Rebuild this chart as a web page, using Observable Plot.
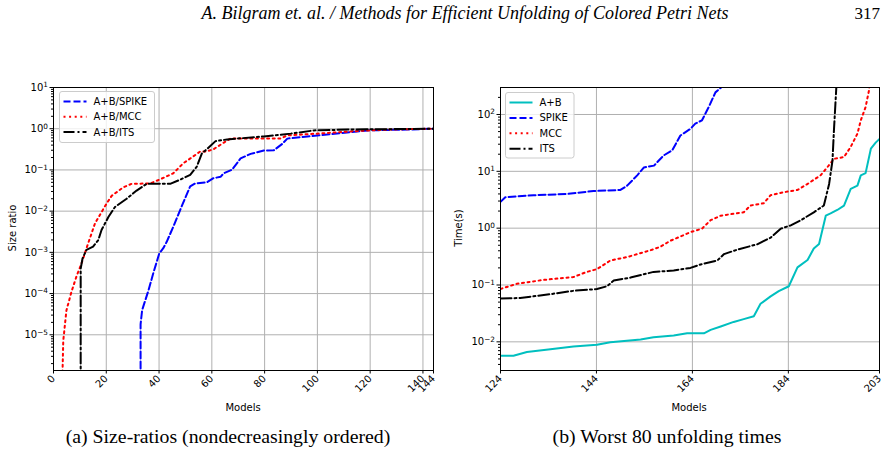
<!DOCTYPE html>
<html><head><meta charset="utf-8">
<script src="https://cdn.jsdelivr.net/npm/d3@7"></script>
<script src="https://cdn.jsdelivr.net/npm/@observablehq/plot@0.6"></script>
<style>
body{margin:0;background:#fff;}
#wrap{position:relative;width:888px;height:461px;overflow:hidden;background:#fff;}
</style></head><body><div id="wrap"></div>
<script>
// ---------- (a) Size-ratios ----------
const sizeLabels = ["A+B/SPIKE", "A+B/MCC", "A+B/ITS"];
const sizeSpikeX = [33, 33, 33.6, 36, 37.8, 40.1, 41.6, 42.9, 45.4, 48.6, 51.8, 53.7, 58.1, 60.6, 63.3, 64.5, 67.7, 70.9, 74.7, 79.7, 83.5, 86.7, 88.6, 96.2, 108.8, 119, 134, 144];
const sizeSpikeY = [1e-8, 1.8e-5, 4.0e-5, 1.2e-4, 3.1e-4, 9.5e-4, 1.26e-3, 1.8e-3, 4.2e-3, 0.0132, 0.04, 0.047, 0.05, 0.063, 0.068, 0.083, 0.102, 0.19, 0.245, 0.295, 0.30, 0.43, 0.575, 0.65, 0.78, 0.91, 0.955, 1.0];
const sizeMccX = [3, 3.7, 4.9, 6.8, 8.7, 10.6, 11.9, 12.5, 15.7, 19.5, 22, 26.5, 29.6, 36.6, 40.4, 45.4, 49.2, 53, 55.6, 58, 60.7, 65, 67, 86, 88.6, 100, 114, 126.6, 144];
const sizeMccY = [1e-7, 7.2e-6, 3.9e-5, 1.1e-4, 2.6e-4, 5.4e-4, 9.5e-4, 1.26e-3, 5.0e-3, 0.0132, 0.0234, 0.038, 0.046, 0.047, 0.059, 0.083, 0.145, 0.214, 0.28, 0.28, 0.32, 0.48, 0.575, 0.575, 0.69, 0.76, 0.87, 0.955, 1.0];
const sizeItsX = [10.3, 10.3, 11, 12.5, 15, 17, 18.2, 20.8, 23.3, 27.7, 31.5, 35.3, 44.2, 48, 51.8, 54.3, 56.2, 58.1, 61.4, 65.8, 79.7, 89.9, 98.7, 112.6, 144];
const sizeItsY = [1e-8, 4.0e-4, 7.1e-4, 1.15e-3, 1.38e-3, 2.0e-3, 3.5e-3, 7.2e-3, 0.0126, 0.02, 0.0316, 0.046, 0.046, 0.058, 0.076, 0.12, 0.25, 0.32, 0.5, 0.55, 0.65, 0.76, 0.91, 0.955, 1.0];
const sizeXTicks = [0, 20, 40, 60, 80, 100, 120, 140, 144];
const sizeYTicks = [1e-5, 1e-4, 1e-3, 1e-2, 1e-1, 1, 10];

// ---------- (b) Worst 80 unfolding times ----------
const timeLabels = ["A+B", "SPIKE", "MCC", "ITS"];
const timeAbX = [124, 126.7, 129.5, 134.4, 139.2, 144.1, 146.9, 153.2, 155.9, 160.1, 162.9, 166.4, 167.8, 169.9, 172.6, 174.7, 176.8, 178.2, 180.3, 182, 184.1, 185.9, 188, 189.3, 190.4, 191.8, 192.8, 194.2, 195.6, 197, 198.4, 199.1, 200.1, 201.2, 202.2, 203];
const timeAbY = [0.0057, 0.0057, 0.0066, 0.0074, 0.0083, 0.0089, 0.0098, 0.011, 0.012, 0.0129, 0.0141, 0.0141, 0.0162, 0.0186, 0.0224, 0.0251, 0.0282, 0.0468, 0.063, 0.078, 0.095, 0.204, 0.275, 0.437, 0.525, 1.66, 1.82, 2.09, 2.5, 4.9, 5.6, 8.5, 9.3, 25, 32, 37];
const timeSpikeX = [124, 125, 130.9, 137.9, 143.4, 149, 150.4, 152.5, 153.9, 156, 158, 159.8, 161.5, 163.6, 164.6, 166, 167.4, 168.8, 170, 171];
const timeSpikeY = [2.9, 3.5, 3.8, 4.0, 4.5, 4.7, 5.6, 8.5, 11.7, 12.6, 19, 23.4, 42.7, 56, 69, 79, 135, 245, 300, 600];
const timeMccX = [124, 127.4, 133, 139.2, 142, 144.1, 146.9, 150.4, 155.3, 157.3, 159.4, 163.6, 166, 167.8, 169.9, 174.7, 176.1, 178.9, 180.3, 183.1, 185.9, 188, 190.7, 192.1, 193.5, 195.6, 197, 198.4, 199.1, 200.1, 200.8, 201.2];
const timeMccY = [0.085, 0.105, 0.123, 0.138, 0.17, 0.19, 0.27, 0.31, 0.41, 0.47, 0.6, 0.85, 0.98, 1.38, 1.66, 1.9, 2.5, 2.75, 3.8, 4.3, 4.7, 6.0, 8.5, 11.7, 16.6, 17.8, 27, 46, 79, 135, 263, 600];
const timeItsX = [124, 128.1, 134.4, 139.2, 144.1, 146.2, 147.6, 151.1, 155.9, 160.1, 163.6, 165.7, 169.2, 170.6, 173.4, 177.5, 180.3, 182.4, 184.5, 186.6, 189.3, 191.4, 192.5, 193.2, 193.5, 194, 194.3];
const timeItsY = [0.058, 0.059, 0.069, 0.079, 0.085, 0.095, 0.12, 0.135, 0.17, 0.18, 0.2, 0.23, 0.27, 0.35, 0.42, 0.52, 0.68, 0.98, 1.12, 1.38, 1.9, 2.5, 6.0, 15.5, 52, 300, 1000];
const timeXTicks = [124, 144, 164, 184, 203];
const timeYTicks = [1e-2, 1e-1, 1, 10, 100];

// ---------- styles ----------
const styles = {
  "A+B": {stroke: "#00bfbf", dash: null},
  "SPIKE": {stroke: "#0000ff", dash: "7,3"},
  "MCC": {stroke: "#ff0000", dash: "2,3.6"},
  "ITS": {stroke: "#000000", dash: "11,3,2,3"}
};
const powFmt = d => "10^" + String(Math.round(Math.log10(d))).replace("-", "\u2212");
function minorTicks(lo, hi) {
  const out = [];
  for (let e = Math.floor(Math.log10(lo)); e <= Math.ceil(Math.log10(hi)); e++)
    for (let m = 2; m <= 9; m++) { const v = m * Math.pow(10, e); if (v >= lo && v <= hi) out.push(v); }
  return out;
}
const zip = (xs, ys) => xs.map((x, i) => ({x, y: ys[i]}));
const lineMark = (xs, ys, key) => Plot.line(zip(xs, ys), {x: "x", y: "y", stroke: styles[key].stroke, strokeWidth: 2, strokeDasharray: styles[key].dash, strokeLinejoin: "round", clip: true});
const grid = "#b0b0b0";
const fontStyle = {fontFamily: "DejaVu Sans", fontSize: "10px", color: "black", background: "transparent", overflow: "visible"};

function makePlot(cfg) {
  const p = Plot.plot({
    width: 444, height: 350,
    marginLeft: cfg.ml, marginRight: cfg.mr, marginTop: 17, marginBottom: 50,
    style: fontStyle,
    x: {domain: cfg.xDomain},
    y: {type: "log", domain: cfg.yDomain},
    marks: [
      Plot.gridX(cfg.xTicks, {stroke: grid, strokeOpacity: 1, strokeWidth: 1}),
      Plot.gridY(cfg.yTicks, {stroke: grid, strokeOpacity: 1, strokeWidth: 1}),
      ...cfg.lines,
      Plot.frame({stroke: "black", strokeWidth: 1}),
      Plot.axisY(minorTicks(cfg.yDomain[0], cfg.yDomain[1]), {tickSize: 2, tickFormat: () => "", label: null}),
      Plot.axisY(cfg.yTicks, {tickSize: 3.5, tickPadding: 2, tickFormat: powFmt, label: null}),
      Plot.axisX(cfg.xTicks, {tickSize: 3.5, tickPadding: 3, tickRotate: -45, tickFormat: d => String(d), label: null})
    ]
  });
  p.style.position = "absolute";
  p.style.left = cfg.left + "px";
  p.style.top = "70px";
  // render "10^e" as 10 with a raised exponent
  d3.select(p).selectAll("text").each(function() {
    const s = this.textContent;
    if (s.startsWith("10^")) {
      const e = s.slice(3);
      this.textContent = "10";
      d3.select(this).append("tspan").attr("dy", "-0.45em").style("font-size", "7.3px").text(e);
    }
  });
  return p;
}

const wrap = document.getElementById("wrap");
wrap.appendChild(makePlot({
  left: 0, ml: 53, mr: 11, xDomain: [0, 144], yDomain: [1.36e-6, 10],
  xTicks: sizeXTicks, yTicks: sizeYTicks,
  lines: [lineMark(sizeSpikeX, sizeSpikeY, "SPIKE"), lineMark(sizeMccX, sizeMccY, "MCC"), lineMark(sizeItsX, sizeItsY, "ITS")]
}));
wrap.appendChild(makePlot({
  left: 444, ml: 56, mr: 9, xDomain: [124, 203], yDomain: [0.00313, 298.5],
  xTicks: timeXTicks, yTicks: timeYTicks,
  lines: [lineMark(timeAbX, timeAbY, "A+B"), lineMark(timeSpikeX, timeSpikeY, "SPIKE"), lineMark(timeMccX, timeMccY, "MCC"), lineMark(timeItsX, timeItsY, "ITS")]
}));

// ---------- overlay texts and legends ----------
const svg = d3.select(wrap).append("svg").attr("width", 888).attr("height", 461)
  .style("position", "absolute").style("left", 0).style("top", 0);
svg.append("text").attr("x", 465).attr("y", 19).attr("text-anchor", "middle")
  .style("font-family", "Liberation Serif").style("font-style", "italic").style("font-size", "18px")
  .text("A. Bilgram et. al. / Methods for Efficient Unfolding of Colored Petri Nets");
svg.append("text").attr("x", 880).attr("y", 19).attr("text-anchor", "end")
  .style("font-family", "Liberation Serif").style("font-size", "17px").text("317");
svg.append("text").attr("x", 228).attr("y", 443).attr("text-anchor", "middle")
  .style("font-family", "Liberation Serif").style("font-size", "19.8px").text("(a) Size-ratios (nondecreasingly ordered)");
svg.append("text").attr("x", 667).attr("y", 443).attr("text-anchor", "middle")
  .style("font-family", "Liberation Serif").style("font-size", "19.8px").text("(b) Worst 80 unfolding times");
const lab = (x, y, t, rot) => svg.append("text").attr("transform", `translate(${x},${y}) rotate(${rot})`)
  .attr("text-anchor", "middle").attr("dominant-baseline", "central")
  .style("font-family", "DejaVu Sans").style("font-size", "10px").text(t);
lab(243, 407, "Models", 0);
lab(689, 407, "Models", 0);
lab(12, 228, "Size ratio", -90);
lab(458, 228, "Time(s)", -90);

function legend(x, y, w, h, labels, keys, step) {
  const g = svg.append("g").attr("transform", `translate(${x},${y})`);
  g.append("rect").attr("width", w).attr("height", h).attr("rx", 2.5)
    .attr("fill", "white").attr("fill-opacity", 0.8).attr("stroke", "#cccccc");
  labels.forEach((t, i) => {
    const cy = 10 + i * step;
    g.append("line").attr("x1", 4).attr("x2", 27).attr("y1", cy).attr("y2", cy)
      .attr("stroke", styles[keys[i]].stroke).attr("stroke-width", 2)
      .attr("stroke-dasharray", styles[keys[i]].dash);
    g.append("text").attr("x", 34).attr("y", cy).attr("dominant-baseline", "central")
      .style("font-family", "DejaVu Sans").style("font-size", "10px").text(t);
  });
}
legend(59.5, 91.5, 95, 51, sizeLabels, ["SPIKE", "MCC", "ITS"], 15.3);
legend(505.5, 92.5, 68.5, 65.5, timeLabels, ["A+B", "SPIKE", "MCC", "ITS"], 15.4);
</script></body></html>
